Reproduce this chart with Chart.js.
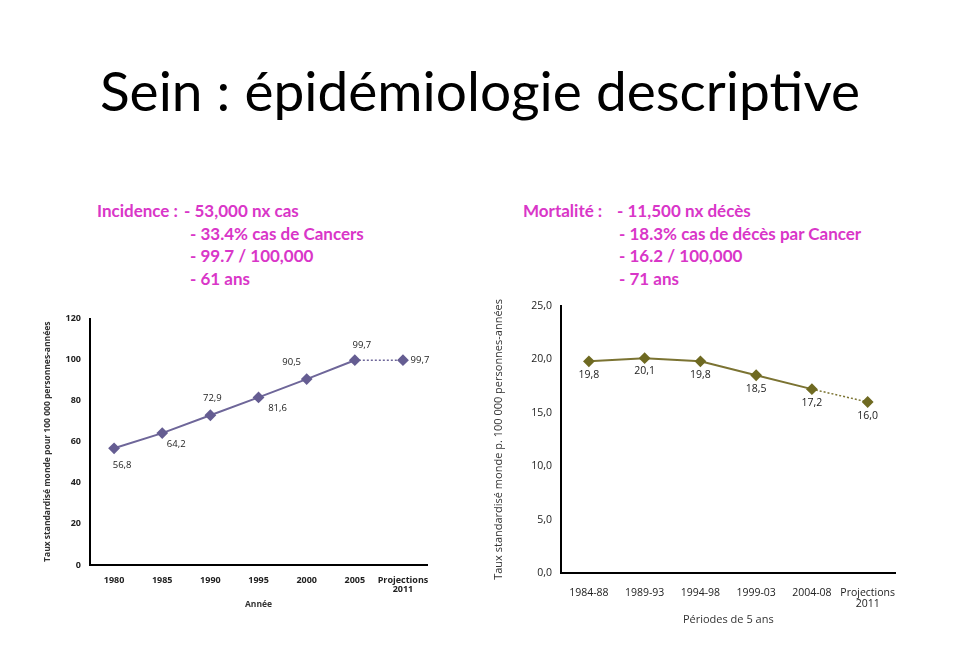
<!DOCTYPE html>
<html>
<head>
<meta charset="utf-8">
<script src="https://cdn.jsdelivr.net/npm/chart.js@4/dist/chart.umd.min.js"></script>
<style>
  body { margin: 0; width: 960px; height: 665px; background: #fff; position: relative; overflow: hidden; font-family: Lato, "Open Sans", sans-serif; }
  h1 { position: absolute; left: 0; top: 57px; width: 960px; margin: 0; text-align: center; font-weight: normal; font-size: 55px; color: #000; }
  .info { position: absolute; color: #d936c8; font-weight: bold; font-size: 17px; line-height: 22.5px; white-space: nowrap; }
  .info span { display: inline-block; }
  .wrap { position: absolute; }
</style>
</head>
<body>
<h1>Sein : épidémiologie descriptive</h1>

<div class="info" style="left:97px; top:200px;">
  <div><span style="width:87px">Incidence :</span>- 53,000 nx cas</div>
  <div><span style="width:93px"></span>- 33.4% cas de Cancers</div>
  <div><span style="width:93px"></span>- 99.7 / 100,000</div>
  <div><span style="width:93px"></span>- 61 ans</div>
</div>
<div class="info" style="left:523px; top:200px;">
  <div><span style="width:94px">Mortalité :</span>- 11,500 nx décès</div>
  <div><span style="width:96px"></span>- 18.3% cas de décès par Cancer</div>
  <div><span style="width:96px"></span>- 16.2 / 100,000</div>
  <div><span style="width:96px"></span>- 71 ans</div>
</div>

<div class="wrap" style="left:30px; top:305px; width:410px; height:305px;"><canvas id="incidence"></canvas></div>
<div class="wrap" style="left:490px; top:291px; width:420px; height:344px;"><canvas id="mortalite"></canvas></div>

<script>
// incidence (left)
const incYears = ["1980", "1985", "1990", "1995", "2000", "2005", ["Projections", "2011"]];
const incRates = [56.8, 64.2, 72.9, 81.6, 90.5, 99.7, 99.7];
const incTicks = [0, 20, 40, 60, 80, 100, 120];
// where each value label sits around its point
const incLabelPos = [[8, 17], [14, 11], [2, -17], [19, 11], [-15, -17], [7, -15], [17, 0]];

// mortalite (right)
const morPeriods = ["1984-88", "1989-93", "1994-98", "1999-03", "2004-08", ["Projections", "2011"]];
const morRates = [19.8, 20.1, 19.8, 18.5, 17.2, 16.0];
const morTicks = [0, 5, 10, 15, 20, 25];
const morLabelPos = [[0, 14], [0, 13], [0, 14], [0, 14], [0, 14], [0, 14]];

const comma = v => v.toFixed(1).replace('.', ',');

// draws the value next to each point, using the positions chart.js computed
const valueLabels = {
  id: 'valueLabels',
  afterDatasetsDraw(chart, args, opts) {
    const ctx = chart.ctx;
    const meta = chart.getDatasetMeta(0);
    const values = chart.data.datasets[0].data;
    ctx.save();
    ctx.font = opts.font;
    ctx.fillStyle = '#222';
    ctx.textAlign = 'center';
    ctx.textBaseline = 'middle';
    meta.data.forEach((pt, i) => {
      const off = opts.pos[i];
      ctx.fillText(comma(values[i]), pt.x + off[0], pt.y + off[1]);
    });
    ctx.restore();
  }
};

function makeChart(id, labels, data, ticks, color, pointColor, pos, cfg) {
  const last = data.length - 1;
  return new Chart(document.getElementById(id), {
    type: 'line',
    data: {
      labels: labels,
      datasets: [{
        data: data,
        borderColor: color,
        borderWidth: 2,
        pointStyle: 'rectRot',
        pointRadius: 4.5,
        pointBackgroundColor: pointColor,
        pointBorderColor: pointColor,
        tension: 0,
        segment: {
          borderDash: c => c.p1DataIndex === last ? [2, 2] : undefined,
          borderWidth: c => c.p1DataIndex === last ? 1.5 : 2
        }
      }]
    },
    options: {
      responsive: true,
      maintainAspectRatio: false,
      animation: false,
      layout: { padding: cfg.padding },
      plugins: {
        legend: { display: false },
        tooltip: { enabled: false },
        valueLabels: { pos: pos, font: cfg.labelFont }
      },
      scales: {
        x: {
          offset: true,
          grid: { display: false, drawTicks: false },
          border: { color: '#000', width: 2 },
          ticks: { color: '#222', font: cfg.tickFont, padding: cfg.xPad, maxRotation: 0, autoSkip: false },
          title: { display: true, text: cfg.xTitle, color: '#333', font: cfg.titleFont, padding: { top: cfg.xTitlePad, bottom: 0 } },
          afterFit: s => { s.height = cfg.xHeight; }
        },
        y: {
          min: ticks[0],
          max: ticks[ticks.length - 1],
          afterBuildTicks: s => { s.ticks = ticks.map(v => ({ value: v })); },
          grid: { display: false, drawTicks: false },
          border: { color: '#000', width: 2 },
          ticks: { color: '#222', font: cfg.tickFont, padding: cfg.yPad, callback: cfg.yFormat },
          title: { display: true, text: cfg.yTitle, color: '#333', font: cfg.titleFont, padding: { top: cfg.yTitlePad, bottom: 0 } },
          afterFit: s => { s.width = cfg.yWidth; }
        }
      }
    },
    plugins: [valueLabels]
  });
}

makeChart('incidence', incYears, incRates, incTicks, '#6e6699', '#655d92', incLabelPos, {
  padding: { top: 13, right: 10, left: 0, bottom: 0 },
  labelFont: '9.5px "Open Sans"',
  tickFont: { family: 'Open Sans', size: 9, weight: 'bold', lineHeight: 1.0 },
  titleFont: { family: 'Open Sans', size: 8.5, weight: 'bold' },
  xTitle: 'Année', yTitle: 'Taux standardisé monde pour 100 000 personnes-années',
  xPad: 11, xTitlePad: 2, xHeight: 45, yPad: 9, yWidth: 60, yTitlePad: 12,
  yFormat: v => v
});

makeChart('mortalite', morPeriods, morRates, morTicks, '#7b7332', '#6f6a22', morLabelPos, {
  padding: { top: 6, right: 12, left: 0, bottom: 9 },
  labelFont: '10.5px "Open Sans"',
  tickFont: { family: 'Open Sans', size: 10.5, lineHeight: 1.1 },
  titleFont: { family: 'Open Sans', size: 11 },
  xTitle: 'Périodes de 5 ans', yTitle: 'Taux standardisé monde p. 100 000 personnes-années',
  xPad: 14, xTitlePad: 2, xHeight: 53, yPad: 9, yWidth: 71, yTitlePad: 2,
  yFormat: v => comma(v)
});
</script>
</body>
</html>
